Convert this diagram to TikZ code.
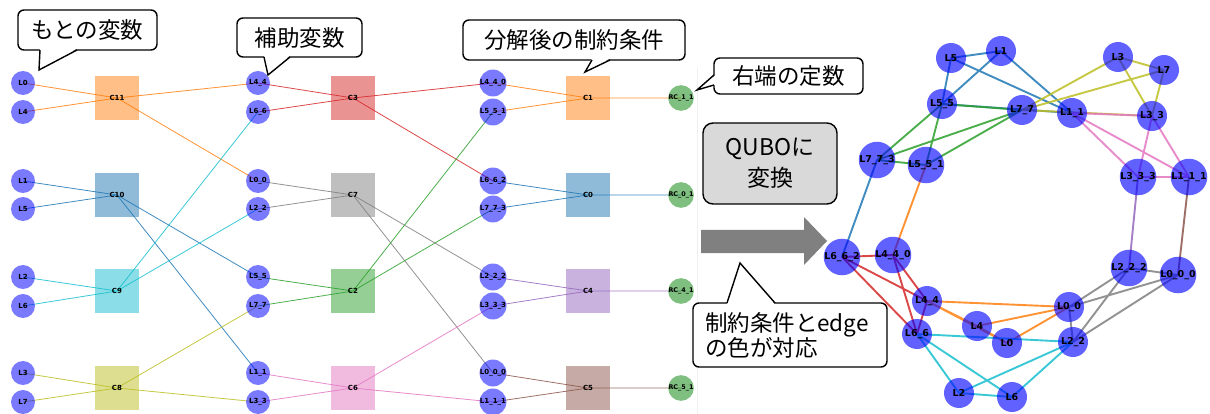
\documentclass[tikz,border=0pt]{standalone}
\usepackage{fontspec}
\setmainfont{DejaVu Sans}
\newfontfamily\jpfont{Noto Sans CJK JP}
\usetikzlibrary{backgrounds}

% matplotlib "tab10" palette
\definecolor{tabblue}{HTML}{1F77B4}
\definecolor{taborange}{HTML}{FF7F0E}
\definecolor{tabgreen}{HTML}{2CA02C}
\definecolor{tabred}{HTML}{D62728}
\definecolor{tabpurple}{HTML}{9467BD}
\definecolor{tabbrown}{HTML}{8C564B}
\definecolor{tabpink}{HTML}{E377C2}
\definecolor{tabgray}{HTML}{7F7F7F}
\definecolor{tabolive}{HTML}{BCBD22}
\definecolor{tabcyan}{HTML}{17BECF}
\definecolor{mplgreen}{HTML}{008000}
\definecolor{boxgray}{HTML}{D9D9D9}
\definecolor{arrowgray}{HTML}{808080}

\tikzset{
  var/.style={circle, fill=blue, fill opacity=0.52, text opacity=1,
    minimum size=24pt, inner sep=0pt, font=\fontsize{7}{8}\selectfont\bfseries},
  rcnode/.style={circle, fill=mplgreen, fill opacity=0.5, text opacity=1,
    minimum size=25pt, inner sep=0pt, font=\fontsize{6.4}{7}\selectfont\bfseries},
  con/.style={rectangle, fill=#1, fill opacity=0.5, text opacity=1,
    minimum size=44pt, inner sep=0pt, font=\fontsize{7}{8}\selectfont\bfseries},
  qvar/.style={circle, fill=blue, fill opacity=0.62, text opacity=1,
    minimum size=30pt, inner sep=0pt, font=\fontsize{9.5}{10}\selectfont\bfseries},
  ledge/.style={draw=#1, line width=0.8pt, draw opacity=0.85},
  qedge/.style={draw=#1, line width=1.9pt, draw opacity=0.85},
  bubble/.style={draw=black, fill=white, line width=1.4pt, rounded corners=6pt,
    inner sep=0pt, font=\jpfont\fontsize{22.5}{27}\selectfont},
  pointer/.style={draw=black, line width=1.4pt, line join=miter},
}

% every pair of four nodes, joined with one colour
\newcommand\fourclique[5]{%
  \draw[qedge=#1] (#2.center)--(#3.center) (#2.center)--(#4.center)
    (#2.center)--(#5.center) (#3.center)--(#4.center)
    (#3.center)--(#5.center) (#4.center)--(#5.center);}

\begin{document}
\begin{tikzpicture}[x=1pt, y=-1pt]
\useasboundingbox (0,0) rectangle (1210,414);

% ---------- factor graph: original variables ----------
\node[var] (aL0) at (23,83)  {L0};
\node[var] (aL4) at (23,112) {L4};
\node[var] (aL1) at (23,181) {L1};
\node[var] (aL5) at (23,209) {L5};
\node[var] (aL2) at (23,277) {L2};
\node[var] (aL6) at (23,306) {L6};
\node[var] (aL3) at (23,373) {L3};
\node[var] (aL7) at (23,402) {L7};

\node[con=taborange] (C11) at (117,98)  {C11};
\node[con=tabblue]   (C10) at (117,195) {C10};
\node[con=tabcyan]   (C9)  at (117,291) {C9};
\node[con=tabolive]  (C8)  at (117,388) {C8};

% auxiliary variables
\node[var] (aL44) at (258,83)  {L4\_4};
\node[var] (aL66) at (258,112) {L6\_6};
\node[var] (aL00) at (258,181) {L0\_0};
\node[var] (aL22) at (258,209) {L2\_2};
\node[var] (aL55) at (258,277) {L5\_5};
\node[var] (aL77) at (258,306) {L7\_7};
\node[var] (aL11) at (258,373) {L1\_1};
\node[var] (aL33) at (258,402) {L3\_3};

\node[con=tabred]   (C3) at (353,98)  {C3};
\node[con=tabgray]  (C7) at (353,195) {C7};
\node[con=tabgreen] (C2) at (353,291) {C2};
\node[con=tabpink]  (C6) at (353,388) {C6};

\node[var] (aL440) at (493,83)  {L4\_4\_0};
\node[var] (aL551) at (493,112) {L5\_5\_1};
\node[var] (aL662) at (493,181) {L6\_6\_2};
\node[var] (aL773) at (493,209) {L7\_7\_3};
\node[var] (aL222) at (493,277) {L2\_2\_2};
\node[var] (aL333) at (493,306) {L3\_3\_3};
\node[var] (aL000) at (493,373) {L0\_0\_0};
\node[var] (aL111) at (493,402) {L1\_1\_1};

\node[con=taborange] (C1) at (588,98)  {C1};
\node[con=tabblue]   (C0) at (588,195) {C0};
\node[con=tabpurple] (C4) at (588,291) {C4};
\node[con=tabbrown]  (C5) at (588,388) {C5};

\node[rcnode] (RC11) at (681,98)  {RC\_1\_1};
\node[rcnode] (RC01) at (681,195) {RC\_0\_1};
\node[rcnode] (RC41) at (681,291) {RC\_4\_1};
\node[rcnode] (RC51) at (681,388) {RC\_5\_1};

\begin{scope}[on background layer]
  \draw[black!6, line width=0.6pt] (697,68) -- (697,414);
  \foreach \c/\col/\a/\b/\p/\q in {
      C11/taborange/aL0/aL4/aL44/aL00,
      C10/tabblue/aL1/aL5/aL55/aL11,
      C9/tabcyan/aL2/aL6/aL66/aL22,
      C8/tabolive/aL3/aL7/aL77/aL33,
      C3/tabred/aL44/aL66/aL440/aL662,
      C7/tabgray/aL00/aL22/aL222/aL000,
      C2/tabgreen/aL55/aL77/aL551/aL773,
      C6/tabpink/aL11/aL33/aL333/aL111}
    \draw[ledge=\col] (\c.center)--(\a.center) (\c.center)--(\b.center)
                      (\c.center)--(\p.center) (\c.center)--(\q.center);
  \foreach \c/\col/\a/\b/\r in {
      C1/taborange/aL440/aL551/RC11,
      C0/tabblue/aL662/aL773/RC01,
      C4/tabpurple/aL222/aL333/RC41,
      C5/tabbrown/aL000/aL111/RC51}
    \draw[ledge=\col] (\c.center)--(\a.center) (\c.center)--(\b.center)
                      (\c.center)--(\r.center);
\end{scope}

% ---------- QUBO graph ----------
\node[qvar] (qL5)   at (951,58)   {L5};
\node[qvar] (qL1)   at (1001,51)  {L1};
\node[qvar] (qL55)  at (942,104)  {L5\_5};
\node[qvar] (qL77)  at (1022,110) {L7\_7};
\node[qvar] (qL11)  at (1072,113) {L1\_1};
\node[qvar] (qL3)   at (1118,57)  {L3};
\node[qvar] (qL7)   at (1164,70)  {L7};
\node[qvar] (qL33)  at (1152,116) {L3\_3};
\node[qvar] (qL773) at (877,160)  {L7\_7\_3};
\node[qvar] (qL551) at (926,165)  {L5\_5\_1};
\node[qvar] (qL333) at (1138,177) {L3\_3\_3};
\node[qvar] (qL111) at (1189,177) {L1\_1\_1};
\node[qvar] (qL662) at (842,257)  {L6\_6\_2};
\node[qvar] (qL440) at (893,255)  {L4\_4\_0};
\node[qvar] (qL222) at (1129,268) {L2\_2\_2};
\node[qvar] (qL000) at (1178,275) {L0\_0\_0};
\node[qvar] (qL44)  at (927,301)  {L4\_4};
\node[qvar] (qL66)  at (917,334)  {L6\_6};
\node[qvar] (qL4)   at (977,326)  {L4};
\node[qvar] (qL0)   at (1007,343) {L0};
\node[qvar] (qL00)  at (1069,307) {L0\_0};
\node[qvar] (qL22)  at (1073,342) {L2\_2};
\node[qvar] (qL2)   at (959,393)  {L2};
\node[qvar] (qL6)   at (1012,397) {L6};

\begin{scope}[on background layer]
  \fourclique{tabblue}{qL1}{qL5}{qL55}{qL11}
  \fourclique{tabgreen}{qL55}{qL77}{qL551}{qL773}
  \fourclique{tabolive}{qL3}{qL7}{qL77}{qL33}
  \fourclique{tabpink}{qL11}{qL33}{qL333}{qL111}
  \fourclique{tabred}{qL44}{qL66}{qL440}{qL662}
  \fourclique{taborange}{qL0}{qL4}{qL44}{qL00}
  \fourclique{tabgray}{qL00}{qL22}{qL222}{qL000}
  \fourclique{tabcyan}{qL2}{qL6}{qL66}{qL22}
  \draw[qedge=tabblue]   (qL662.center) -- (qL773.center);
  \draw[qedge=taborange] (qL440.center) -- (qL551.center);
  \draw[qedge=tabpurple] (qL222.center) -- (qL333.center);
  \draw[qedge=tabbrown]  (qL000.center) -- (qL111.center);
\end{scope}

% ---------- conversion arrow ----------
\fill[arrowgray] (701,230) -- (804,230) -- (804,217) -- (827,241)
  -- (804,265) -- (804,253) -- (701,253) -- cycle;
\node[draw=black, fill=boxgray, line width=1.4pt, rounded corners=10pt,
  minimum width=134pt, minimum height=81pt, inner sep=0pt, align=center,
  font=\jpfont\fontsize{23}{31}\selectfont] (qubo) at (770,163.5) {QUBOに\\変換};

% ---------- speech bubbles ----------
\node[bubble, minimum width=139pt, minimum height=40pt] (orig) at (87.5,30) {もとの変数};
\fill[white] (40,48.5) -- (39,70) -- (77,48.5) -- cycle;
\draw[pointer] (40,50) -- (39,70) -- (77,50);

\node[bubble, minimum width=125pt, minimum height=39pt] (aux) at (299.5,37.5) {補助変数};
\fill[white] (264,55.5) -- (268,75) -- (290,55.5) -- cycle;
\draw[pointer] (264,57) -- (268,75) -- (290,57);

\node[bubble, minimum width=222pt, minimum height=40pt] (dec) at (574,40) {分解後の制約条件};
\fill[white] (592,58.5) -- (585,72) -- (610,58.5) -- cycle;
\draw[pointer] (592,60) -- (585,72) -- (610,60);

\node[bubble, minimum width=149pt, minimum height=36pt] (rhs) at (788.5,76) {右端の定数};
\fill[white] (715.5,75) -- (697,90) -- (715.5,85) -- cycle;
\draw[pointer] (714,75) -- (697,90) -- (714,85);

\node[bubble, text width=170pt, inner xsep=12pt, minimum height=64pt, align=left,
  font=\jpfont\fontsize{22.5}{25}\selectfont] (note) at (790,335)
  {制約条件とedge\\の色が対応};
\fill[white] (727,304.5) -- (740,263) -- (775,304.5) -- cycle;
\draw[pointer] (727,303) -- (740,263) -- (775,303);
\end{tikzpicture}
\end{document}
